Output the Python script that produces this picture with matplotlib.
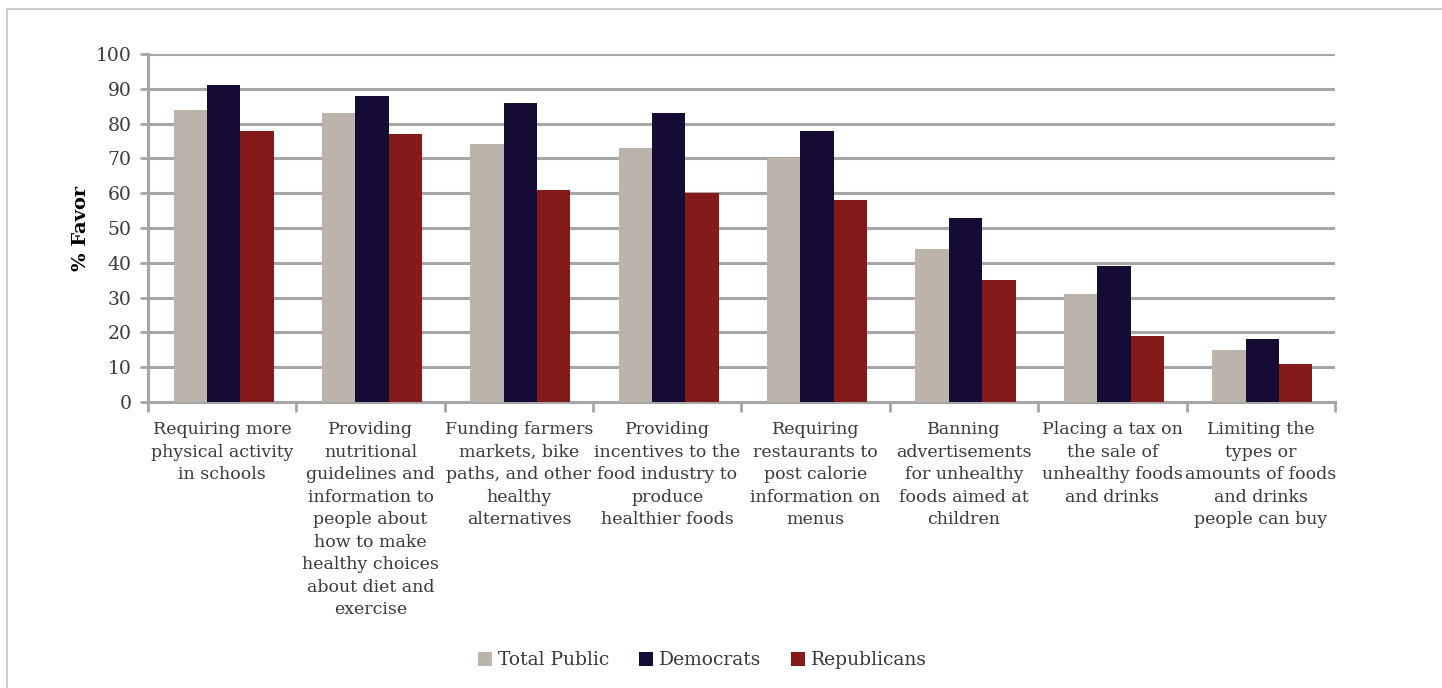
import numpy as np
import matplotlib.pyplot as plt
from matplotlib.patches import Rectangle

categories = [
    'Requiring more\nphysical activity\nin schools',
    'Providing\nnutritional\nguidelines and\ninformation to\npeople about\nhow to make\nhealthy choices\nabout diet and\nexercise',
    'Funding farmers\nmarkets, bike\npaths, and other\nhealthy\nalternatives',
    'Providing\nincentives to the\nfood industry to\nproduce\nhealthier foods',
    'Requiring\nrestaurants to\npost calorie\ninformation on\nmenus',
    'Banning\nadvertisements\nfor unhealthy\nfoods aimed at\nchildren',
    'Placing a tax on\nthe sale of\nunhealthy foods\nand drinks',
    'Limiting the\ntypes or\namounts of foods\nand drinks\npeople can buy',
]
total_public = [84, 83, 74, 73, 70, 44, 31, 15]
democrats = [91, 88, 86, 83, 78, 53, 39, 18]
republicans = [78, 77, 61, 60, 58, 35, 19, 11]
series_names = ['Total Public', 'Democrats', 'Republicans']
colors = ['#bcb3aa', '#160b35', '#841a1a']

plt.rcParams['font.family'] = ['DejaVu Serif']
grid_c = '#a6a6a6'
txt_c = '#3a3a3a'

fig = plt.figure(figsize=(14.42, 6.88), dpi=100)
ax = fig.add_axes([0.1026, 0.4157, 0.8232, 0.5058])

# light frame round the chart (top and left edges visible)
fig.patches.append(Rectangle((7 / 1442, -0.1), 1.2, 1 - 9 / 688 + 0.1,
                             transform=fig.transFigure, fill=False,
                             edgecolor='#c8c4c0', lw=1.2))

x = np.arange(len(categories))
w = 0.225
for i, (vals, name) in enumerate(zip([total_public, democrats, republicans], series_names)):
    ax.bar(x + (i - 1) * w + 0.01, vals, w, color=colors[i], label=name, zorder=3)

ax.set_xlim(-0.5, len(categories) - 0.5)
ax.set_ylim(0, 100)
ax.set_yticks(range(0, 101, 10))
ax.yaxis.grid(True, color=grid_c, lw=2.2, zorder=0)
ax.set_xticks(np.arange(-0.5, len(categories), 1))
ax.set_xticklabels([])
ax.set_xticks(x, minor=True)
ax.set_xticklabels(categories, minor=True, fontsize=12.5, color=txt_c, linespacing=1.42)
ax.tick_params(axis='x', which='major', length=7, width=2, color=grid_c)
ax.tick_params(axis='x', which='minor', length=0, pad=14)
ax.tick_params(axis='y', length=6, width=2, color=grid_c, labelsize=13.5,
               labelcolor=txt_c, pad=6)
for s in ['top', 'right']:
    ax.spines[s].set_visible(False)
for s in ['left', 'bottom']:
    ax.spines[s].set_color(grid_c)
    ax.spines[s].set_linewidth(2.2)

ax.set_ylabel('% Favor', fontsize=14, fontweight='bold', color='black', labelpad=4)

fig.legend(loc='center', bbox_to_anchor=(0.487, 0.04), ncol=3, frameon=False,
           fontsize=13.5, handlelength=0.75, handleheight=0.75, handletextpad=0.3,
           columnspacing=1.6, labelcolor=txt_c)

fig.savefig('out.png', dpi=100, facecolor='white')
